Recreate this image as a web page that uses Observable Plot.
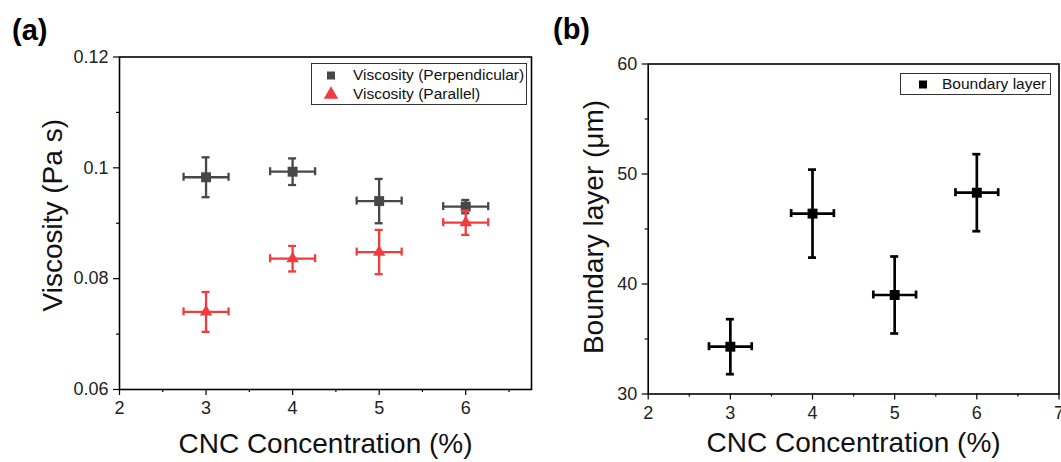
<!DOCTYPE html>
<html>
<head>
<meta charset="utf-8">
<script src="https://cdn.jsdelivr.net/npm/d3@7"></script>
<script src="https://cdn.jsdelivr.net/npm/@observablehq/plot@0.6"></script>
<style>
  html, body { margin: 0; padding: 0; background: #fff; }
  #wrap { position: relative; width: 1061px; height: 462px; overflow: hidden; font-family: "Liberation Sans", Arial, sans-serif; }
  .panel { position: absolute; top: 0; }
  .panel svg { overflow: visible; }
  .tag { position: absolute; font-family: "Liberation Sans", Arial, sans-serif; font-weight: bold; font-size: 29px; color: #000; line-height: 1; }
  .legend { position: absolute; border: 1.5px solid #333; background: #fff; box-sizing: border-box; font-size: 15.5px; color: #111; }
  .row { position: absolute; left: 0; white-space: nowrap; line-height: 1; }
  .row svg { position: absolute; overflow: visible; }
</style>
</head>
<body>
<div id="wrap">
  <div class="tag" style="left:12px; top:16px;">(a)</div>
  <div class="tag" style="left:553px; top:15px;">(b)</div>
  <div class="panel" id="pa" style="left:0px;"></div>
  <div class="panel" id="pb" style="left:540px;"></div>
  <div class="legend" id="la" style="left:311px; top:63px; width:216px; height:42px;"></div>
  <div class="legend" id="lb" style="left:900px; top:73px; width:151px; height:22px;"></div>
</div>
<script>
// ---- data ----
const conc = [3, 4, 5, 6];
const concErr = [0.26, 0.26, 0.26, 0.26];
const viscPerp = [0.0983, 0.0993, 0.0940, 0.0930];
const viscPerpErr = [0.0036, 0.0024, 0.0040, 0.0012];
const viscPar = [0.0740, 0.0836, 0.0848, 0.0901];
const viscParErr = [0.0036, 0.0023, 0.0040, 0.0022];
const boundary = [34.3, 46.4, 39.0, 48.3];
const boundaryErr = [2.5, 4.0, 3.5, 3.5];

const xTicksA = [2, 3, 4, 5, 6];
const xMinorA = [2.5, 3.5, 4.5, 5.5, 6.5];
const yTicksA = [0.06, 0.08, 0.1, 0.12];
const yMinorA = [0.07, 0.09, 0.11];
const xTicksB = [2, 3, 4, 5, 6, 7];
const xMinorB = [2.5, 3.5, 4.5, 5.5, 6.5];
const yTicksB = [30, 40, 50, 60];
const yMinorB = [35, 45, 55];

const seriesA = [
  {name: "Viscosity (Perpendicular)", values: viscPerp, errs: viscPerpErr, color: "#474747", symbol: "square"},
  {name: "Viscosity (Parallel)", values: viscPar, errs: viscParErr, color: "#f03c3c", symbol: "triangle"}
];
const seriesB = [
  {name: "Boundary layer", values: boundary, errs: boundaryErr, color: "#000000", symbol: "square"}
];

const FONT = "Liberation Sans, Arial, sans-serif";

function rows(s) {
  return conc.map((x, i) => ({x, ex: concErr[i], y: s.values[i], ey: s.errs[i]}));
}

function errMarks(s, sw, cap, r) {
  const d = rows(s);
  const o = {stroke: s.color, strokeWidth: sw};
  return [
    Plot.ruleX(d, {x: "x", y1: v => v.y - v.ey, y2: v => v.y + v.ey, ...o}),
    Plot.ruleY(d, {y: "y", x1: v => v.x - v.ex, x2: v => v.x + v.ex, ...o}),
    Plot.ruleY(d, {y: v => v.y + v.ey, x1: "x", x2: "x", insetLeft: -cap, insetRight: -cap, ...o}),
    Plot.ruleY(d, {y: v => v.y - v.ey, x1: "x", x2: "x", insetLeft: -cap, insetRight: -cap, ...o}),
    Plot.ruleX(d, {x: v => v.x - v.ex, y1: "y", y2: "y", insetTop: -cap, insetBottom: -cap, ...o}),
    Plot.ruleX(d, {x: v => v.x + v.ex, y1: "y", y2: "y", insetTop: -cap, insetBottom: -cap, ...o}),
    Plot.dot(d, {x: "x", y: "y", symbol: () => s.symbol, r: s.symbol === "square" ? r : 4.6, fill: s.color, stroke: "none"})
  ];
}

function axes(xT, xM, yT, yM, fmt) {
  const common = {stroke: "#000", strokeWidth: 1.2, fontSize: 18, fill: "#222"};
  return [
    Plot.axisX({ticks: xT, tickSize: 6, tickPadding: 6, tickFormat: d => String(d), label: null, ...common}),
    Plot.axisX({ticks: xM, tickSize: 3, tickFormat: () => "", label: null, ...common}),
    Plot.axisY({ticks: yT, tickSize: 6, tickPadding: 5, tickFormat: fmt, label: null, ...common}),
    Plot.axisY({ticks: yM, tickSize: 3, tickFormat: () => "", label: null, ...common})
  ];
}

const xLabel = ["CNC Concentration (%)"];

const plotA = Plot.plot({
  width: 540, height: 462,
  marginLeft: 119, marginRight: 9, marginTop: 56.5, marginBottom: 73,
  style: {fontFamily: FONT, background: "transparent", overflow: "visible"},
  x: {domain: [2, 6.76]},
  y: {domain: [0.06, 0.12]},
  marks: [
    ...axes(xTicksA, xMinorA, yTicksA, yMinorA, d => d3.format("~g")(d)),
    ...seriesA.flatMap(s => errMarks(s, 2.3, 4, 5.6)),
    Plot.frame({stroke: "#000", strokeWidth: 1.6}),
    Plot.text(["Viscosity (Pa s)"], {frameAnchor: "left", text: d => d, rotate: -90, dx: -58, dy: -8, textAnchor: "middle", lineAnchor: "bottom", fontSize: 28, fill: "#111"}),
    Plot.text(xLabel, {frameAnchor: "bottom", text: d => d, dy: 63, textAnchor: "middle", lineAnchor: "bottom", fontSize: 28, fill: "#111"})
  ]
});
document.getElementById("pa").appendChild(plotA);

const plotB = Plot.plot({
  width: 521, height: 462,
  marginLeft: 107.7, marginRight: 2.5, marginTop: 63.5, marginBottom: 68.5,
  style: {fontFamily: FONT, background: "transparent", overflow: "visible"},
  x: {domain: [2, 7]},
  y: {domain: [30, 60]},
  marks: [
    ...axes(xTicksB, xMinorB, yTicksB, yMinorB, d => String(d)),
    ...seriesB.flatMap(s => errMarks(s, 2.7, 4, 5.6)),
    Plot.frame({stroke: "#000", strokeWidth: 1.6}),
    Plot.text(["Boundary layer (\u03bcm)"], {frameAnchor: "left", text: d => d, rotate: -90, dx: -45, dy: -2, textAnchor: "middle", lineAnchor: "bottom", fontSize: 28, fill: "#111"}),
    Plot.text(xLabel, {frameAnchor: "bottom", text: d => d, dy: 58, textAnchor: "middle", lineAnchor: "bottom", fontSize: 28, fill: "#111"})
  ]
});
document.getElementById("pb").appendChild(plotB);

// ---- legends ----
function legendRow(box, s, top, symX, textX, sz) {
  const row = document.createElement("div");
  row.className = "row";
  row.style.top = top + "px";
  row.style.left = "0px";
  row.style.height = "16px";
  const ns = "http://www.w3.org/2000/svg";
  const svg = document.createElementNS(ns, "svg");
  svg.setAttribute("width", 12); svg.setAttribute("height", 12);
  svg.style.left = (symX - 6) + "px"; svg.style.top = "2px";
  const path = document.createElementNS(ns, "path");
  const sym = s.symbol === "square" ? d3.symbolSquare : d3.symbolTriangle;
  path.setAttribute("d", d3.symbol(sym, s.symbol === "square" ? sz * sz : sz * sz * 0.75)());
  path.setAttribute("transform", "translate(6,6.5)");
  path.setAttribute("fill", s.color);
  svg.appendChild(path);
  row.appendChild(svg);
  const t = document.createElement("span");
  t.textContent = s.name;
  t.style.position = "absolute";
  t.style.left = textX + "px";
  t.style.top = "0px";
  row.appendChild(t);
  box.appendChild(row);
}
const la = document.getElementById("la");
legendRow(la, seriesA[0], 3, 19, 41, 8);
legendRow(la, seriesA[1], 22, 19, 41, 11);
const lb = document.getElementById("lb");
legendRow(lb, seriesB[0], 2, 22, 41, 8);
</script>
</body>
</html>
